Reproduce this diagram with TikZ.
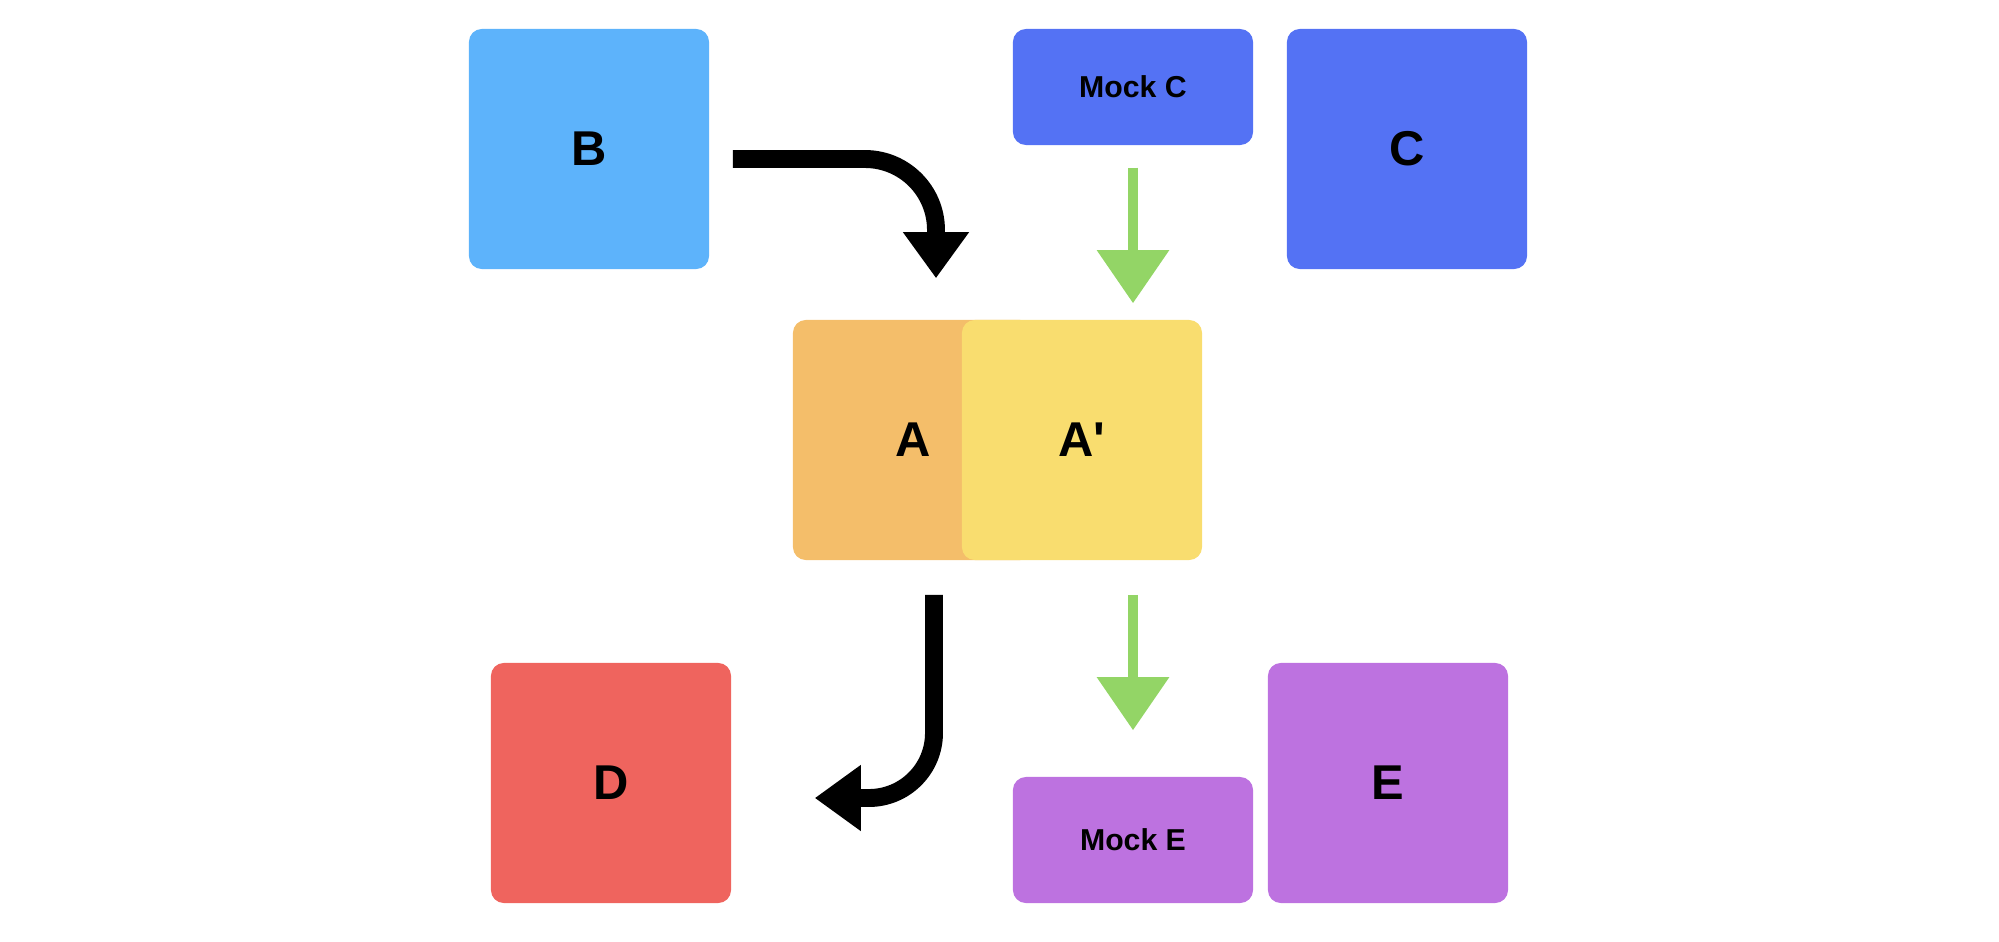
\documentclass[tikz,border=0pt]{standalone}
\usepackage{fontspec}
\setmainfont{Liberation Sans}
\usepackage{tikz}
\usetikzlibrary{positioning,arrows.meta,calc}
\definecolor{bluelight}{RGB}{93,179,251}
\definecolor{bluedeep}{RGB}{84,114,244}
\definecolor{orangeA}{RGB}{244,190,106}
\definecolor{yellowA}{RGB}{249,221,111}
\definecolor{redD}{RGB}{239,100,94}
\definecolor{purpleE}{RGB}{189,114,224}
\definecolor{greenflow}{RGB}{147,213,102}
\tikzset{
  block/.style={rectangle, rounded corners=0.13cm, inner sep=0pt, minimum width=2.4cm, minimum height=2.4cm,
                font=\fontsize{13.9}{16}\bfseries\selectfont},
  mock/.style={block, minimum height=1.16cm, font=\fontsize{8.6}{10}\bfseries\selectfont},
  realcall/.style={-{Triangle[length=13.1pt, width=17.9pt]}, line width=5.1pt, black},
  mockflow/.style={-{Triangle[length=15.1pt, width=19.9pt]}, line width=2.85pt, greenflow},
}

\begin{document}
\begin{tikzpicture}[x=0.01cm, y=-0.01cm]
  \useasboundingbox (0,0) rectangle (1999,942);

  \node[block, fill=bluelight] (B) at (589,149) {B};
  \node[mock, fill=bluedeep] (mockC) at (1133,87) {Mock C};
  \node[block, fill=bluedeep] (C) at (1407,149) {C};

  \node[block, fill=orangeA] (A) at (913,440) {A};
  \node[block, fill=yellowA] (A2) at (1082,440) {A\textquotesingle};

  \node[block, fill=redD] (D) at (611,783) {D};
  \node[mock, minimum height=1.26cm, fill=purpleE] (mockE) at (1133,840) {Mock E};
  \node[block, fill=purpleE] (E) at (1388,783) {E};

  % real calls
  \draw[realcall, rounded corners=0.71cm] ([shift={(23,10)}]B.east) -| ([shift={(23,-41)}]A.north);
  \draw[realcall, rounded corners=0.65cm] ([shift={(21,34)}]A.south) |- ([shift={(83,15)}]D.east);

  % mocked calls
  \draw[mockflow] ([shift={(0,22)}]mockC.south) -- ([shift={(51,-16)}]A2.north);
  \draw[mockflow] ([shift={(51,34)}]A2.south) -- ([shift={(0,-46)}]mockE.north);
\end{tikzpicture}
\end{document}
